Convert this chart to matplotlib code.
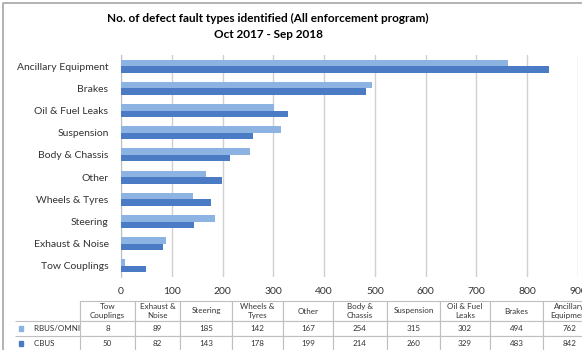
import numpy as np
import matplotlib.pyplot as plt
from matplotlib.patches import Rectangle

plt.rcParams['font.family'] = ['Lato', 'DejaVu Sans']

# data (table order, bottom of chart first)
categories = ["Tow Couplings", "Exhaust & Noise", "Steering", "Wheels & Tyres", "Other",
              "Body & Chassis", "Suspension", "Oil & Fuel Leaks", "Brakes", "Ancillary Equipment"]
header_labels = ["Tow\nCouplings", "Exhaust &\nNoise", "Steering", "Wheels &\nTyres", "Other",
                 "Body &\nChassis", "Suspension", "Oil & Fuel\nLeaks", "Brakes", "Ancillary\nEquipment"]
rbus = [8, 89, 185, 142, 167, 254, 315, 302, 494, 762]
cbus = [50, 82, 143, 178, 199, 214, 260, 329, 483, 842]
series_names = ["RBUS/OMNI", "CBUS"]
colors = ["#8DB3E2", "#4A7BC4"]
xticks = list(range(0, 1000, 100))

W, H = 582, 350
fig = plt.figure(figsize=(W / 100, H / 100), dpi=100)

def box(x0, y0, x1, y1):
    return [x0 / W, 1 - y1 / H, (x1 - x0) / W, (y1 - y0) / H]

# outer chart frame
frame = fig.add_axes([0, 0, 1, 1])
frame.set_xlim(0, W)
frame.set_ylim(H, 0)
frame.axis("off")
frame.plot([3, 3, W + 5], [H + 5, 3, 3], color="#A6A6A6", lw=1.2)

ax = fig.add_axes(box(121, 55, 578, 277))
y = np.arange(len(categories))
h = 0.29
ax.barh(y + h / 2, rbus, height=h, color=colors[0], zorder=3)
ax.barh(y - h / 2, cbus, height=h, color=colors[1], zorder=3)
ax.set_xlim(0, 900)
ax.set_ylim(-0.5, len(categories) - 0.5)
ax.set_xticks(xticks)
ax.set_yticks(y)
ax.set_yticklabels(categories)
ax.grid(axis="x", color="#D0D0D0", lw=1, zorder=0)
for s in ["top", "right", "bottom"]:
    ax.spines[s].set_visible(False)
ax.spines["left"].set_color("#BFBFBF")
ax.tick_params(axis="y", length=0, pad=9, labelsize=7.5, labelcolor="#333333")
ax.tick_params(axis="x", length=0, pad=7, labelsize=7.5, labelcolor="#333333")

fig.text(268 / W, 1 - 18 / H, "No. of defect fault types identified (All enforcement program)",
         ha="center", va="center", fontsize=8.5, fontweight="bold")
fig.text(268 / W, 1 - 35 / H, "Oct 2017 - Sep 2018",
         ha="center", va="center", fontsize=8.5, fontweight="bold")

# data table
tab_ax = fig.add_axes(box(15, 301, 596, 351))
tab_ax.axis("off")
col_edges = [15, 80, 135, 180, 232, 283, 333, 387, 440, 490, 543, 596]
widths = np.diff(col_edges) / (col_edges[-1] - col_edges[0])
cell_text = [[""] + header_labels,
             ["      " + series_names[0]] + [str(v) for v in rbus],
             ["      " + series_names[1]] + [str(v) for v in cbus]]
tbl = tab_ax.table(cellText=cell_text, colWidths=list(widths), bbox=[0, 0, 1, 1],
                   cellLoc="center")
tbl.auto_set_font_size(False)
heights = [20 / 50, 15 / 50, 15 / 50]
for (r, c), cell in tbl.get_celld().items():
    cell.set_edgecolor("#BFBFBF")
    cell.set_linewidth(0.8)
    cell.set_height(heights[r])
    cell.get_text().set_fontsize(5.8)
    cell.get_text().set_color("#333333")
    if r == 0 and c == 0:
        cell.visible_edges = "BR"
    if c == 0 and r > 0:
        cell.get_text().set_ha("left")
        cell.visible_edges = "B"
for i, col in enumerate(colors):
    yc = 1 - (20 + 7.5 + 15 * i) / 50
    tab_ax.add_patch(Rectangle((4 / 581, yc - 0.05), 4 / 581, 0.1,
                               color=col, transform=tab_ax.transAxes))

fig.savefig("out.png", dpi=100)
